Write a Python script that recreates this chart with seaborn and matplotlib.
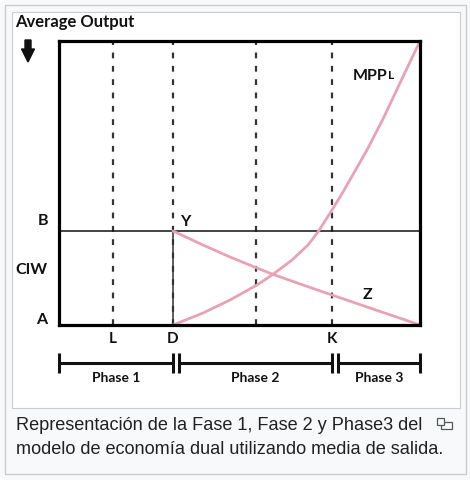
import matplotlib
matplotlib.use("Agg")
import matplotlib.pyplot as plt
from matplotlib.patches import Rectangle, FancyArrow
import numpy as np
import pandas as pd
import seaborn as sns

# Labour input (horizontal) and average output (vertical) in chart units
mpp_x = [114, 144, 171, 198, 213, 233, 249, 259, 273, 284, 308, 324, 341, 361]
mpp_y = [0, 12, 25, 40, 50, 65, 80, 93, 115, 133, 175, 206, 242, 284]

z_x = [114, 144, 171, 198, 213, 244, 273, 311, 361]
z_y = [94, 80, 68, 57, 51, 40, 30, 17, 0]

x_max = 361
y_max = 284
wage_b = 94                      # CIW level B
guide_x = [54, 114, 197, 273]    # dashed guides
guide_labels = ["L", "D", "", "K"]
phase_labels = ["Phase 1", "Phase 2", "Phase 3"]
phase_bounds = [0, 114, 273, 361]

caption_lines = ["Representación de la Fase 1, Fase 2 y Phase3 del",
                 "modelo de economía dual utilizando media de salida."]

sns.set_style("white")
plt.rcParams["font.family"] = ["Lato", "DejaVu Sans"]

W, H = 470, 480
fig = plt.figure(figsize=(W / 100, H / 100), dpi=100)
fig.patch.set_facecolor("#f8f9fa")


def fx(px):
    return px / W


def fy(py):
    return 1 - py / H


# thumbnail frame
fig.patches.append(Rectangle((fx(5), fy(474)), fx(461), 469 / H, transform=fig.transFigure,
                             facecolor="#f8f9fa", edgecolor="#c8ccd1", lw=1.0, zorder=-10))
fig.patches.append(Rectangle((fx(12), fy(408)), fx(448), 396 / H, transform=fig.transFigure,
                             facecolor="white", edgecolor="#c8ccd1", lw=0.8, zorder=-9))

ax = fig.add_axes([fx(59), fy(325), x_max / W, y_max / H])
ax.set_zorder(1)
ax.set_facecolor("white")
ax.set_xlim(0, x_max)
ax.set_ylim(0, y_max)
ax.set_xticks([])
ax.set_yticks([])
for s in ax.spines.values():
    s.set_visible(True)
    s.set_color("black")
    s.set_linewidth(2.3)
    s.set_zorder(5)

ink = "#111111"
pink = "#e8a2b6"

# dashed guides
for gx in guide_x:
    ax.plot([gx, gx], [0, y_max], color="#333333", lw=1.6, linestyle=(0, (2.6, 3.4)), zorder=2)

# CIW line and D vertical
ax.plot([0, x_max], [wage_b, wage_b], color=ink, lw=1.1, zorder=2)
ax.plot([guide_x[1], guide_x[1]], [0, wage_b], color="#333333", lw=1.1, zorder=2)

curves = pd.concat([
    pd.DataFrame({"labour": mpp_x, "output": mpp_y, "curve": "MPPL"}),
    pd.DataFrame({"labour": z_x, "output": z_y, "curve": "Z"}),
])
sns.lineplot(data=curves, x="labour", y="output", hue="curve", units="curve",
             estimator=None, sort=False, palette=[pink, pink], lw=2.0,
             legend=False, ax=ax, zorder=3)
ax.set_xlabel("")
ax.set_ylabel("")

lab_fs = 11.5
bold = dict(fontweight="bold", color=ink, clip_on=False)
ax.text(-16, 104, "B", ha="center", va="center", fontsize=lab_fs, **bold)
ax.text(-28, 55, "CIW", ha="center", va="center", fontsize=lab_fs, **bold)
ax.text(-17, 5, "A", ha="center", va="center", fontsize=lab_fs, **bold)
ax.text(guide_x[1] + 12, wage_b + 9, "Y", ha="center", va="center", fontsize=lab_fs, **bold)
ax.text(308, 30, "Z", ha="center", va="center", fontsize=lab_fs, **bold)
mpp = ax.text(294, 245, "MPP", ha="left", va="baseline", fontsize=lab_fs, **bold)
ax.annotate("L", xy=(1, 0), xycoords=mpp, xytext=(0.5, 2.6), textcoords="offset points",
            ha="left", va="baseline", fontsize=8.5, fontweight="bold", color=ink)
for gx, lab in zip(guide_x, guide_labels):
    if lab:
        ax.text(gx, -14, lab, ha="center", va="center", fontsize=11, **bold)

# phase bar
bar_y = -38
segs = [(phase_bounds[0], phase_bounds[1]),
        (phase_bounds[1] + 6, phase_bounds[2]),
        (phase_bounds[2] + 6, phase_bounds[3])]
for (a, b), lab in zip(segs, phase_labels):
    ax.plot([a, b], [bar_y, bar_y], color=ink, lw=2.2, clip_on=False, solid_capstyle="butt")
    for t in (a, b):
        ax.plot([t, t], [bar_y - 10, bar_y + 10], color=ink, lw=2.2, clip_on=False,
                solid_capstyle="butt")
    ax.text((a + b) / 2, -53, lab, ha="center", va="center", fontsize=10, **bold)

# axis title and arrow
fig.text(fx(15), fy(22), "Average Output", ha="left", va="center", fontsize=12,
         fontweight="bold", color=ink)
fig.patches.append(FancyArrow(fx(28), fy(40), 0, -(22 / H), width=fx(6), head_width=fx(13),
                              head_length=13 / H, length_includes_head=True,
                              transform=fig.transFigure, color=ink))

# caption
for i, line in enumerate(caption_lines):
    fig.text(fx(16), fy(426 + 23 * i), line, ha="left", va="center", fontsize=13.1,
             color="#202122", family=["Liberation Sans", "DejaVu Sans"])
fig.patches.append(Rectangle((fx(441), fy(429)), fx(11), 7 / H, transform=fig.transFigure,
                             facecolor="none", edgecolor="#54595d", lw=0.9))
fig.patches.append(Rectangle((fx(437), fy(425)), fx(7), 7 / H, transform=fig.transFigure,
                             facecolor="#f8f9fa", edgecolor="#54595d", lw=0.9))

fig.savefig("out.png", dpi=100, facecolor=fig.get_facecolor())
